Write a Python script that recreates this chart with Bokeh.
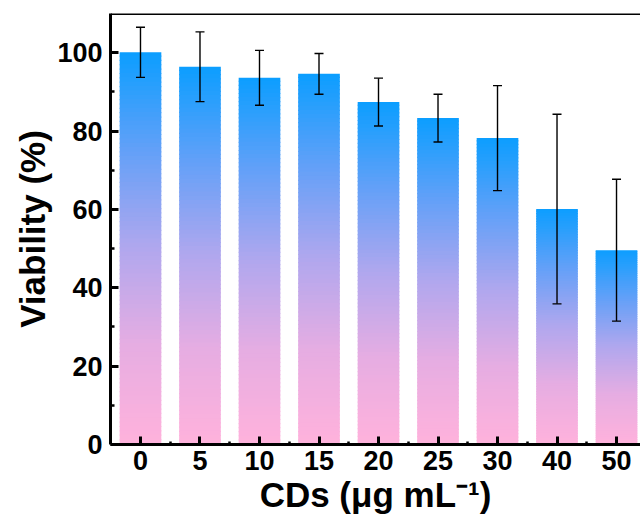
from bokeh.plotting import figure
from bokeh.models import Range1d, FixedTicker, ColumnDataSource, Whisker, TeeHead, Span
from bokeh.embed import file_html
from bokeh.resources import INLINE

# ---- data ----
concentrations = ["0", "5", "10", "15", "20", "25", "30", "40", "50"]
viability = [100.1, 96.4, 93.6, 94.6, 87.4, 83.3, 78.2, 60.1, 49.6]
viability_err = [6.4, 8.9, 7.0, 5.2, 6.1, 6.1, 13.4, 24.2, 18.1]
y_ticks = [0, 20, 40, 60, 80, 100]
y_minor_ticks = [10, 30, 50, 70, 90]
x_title = "CDs (μg mL⁻¹)"
y_title = "Viability (%)"

# ---- style ----
FONT = "Liberation Sans"
GRAD_STOPS = [(0.0, (10, 158, 255)), (0.25, (98, 160, 248)), (0.5, (176, 167, 238)),
              (0.75, (230, 173, 226)), (1.0, (255, 178, 220))]
SLICE_OVERLAP = 0.3  # data units, hides seams between gradient slices


def grad_color(t):
    for (t0, c0), (t1, c1) in zip(GRAD_STOPS[:-1], GRAD_STOPS[1:]):
        if t0 <= t <= t1:
            f = (t - t0) / (t1 - t0)
            r, g, b = (round(a + (bb - a) * f) for a, bb in zip(c0, c1))
            return "#%02x%02x%02x" % (r, g, b)
    return "#%02x%02x%02x" % GRAD_STOPS[-1][1]


positions = list(range(len(concentrations)))

p = figure(width=640, height=525, output_backend="svg", toolbar_location=None,
           x_range=Range1d(-0.504, 8.403), y_range=Range1d(0, 110),
           min_border_left=110, min_border_right=0, min_border_top=13, min_border_bottom=81)
p.outline_line_color = None
p.grid.visible = False
p.background_fill_color = "white"
p.border_fill_color = "white"

# gradient bars: each bar split into thin slices, blue at top -> pink at bottom
N = 90
xs, bots, tops, cols = [], [], [], []
for i, v in zip(positions, viability):
    for k in range(N):
        t0, t1 = k / N, (k + 1) / N
        xs.append(i)
        tops.append(v * (1 - t0) + (SLICE_OVERLAP if k > 0 else 0.0))
        bots.append(v * (1 - t1))
        cols.append(grad_color((t0 + t1) / 2))
p.vbar(x=xs, bottom=bots, top=tops, width=0.7, fill_color=cols, line_color=None)

# error bars
src = ColumnDataSource(dict(
    x=positions,
    upper=[v + e for v, e in zip(viability, viability_err)],
    lower=[v - e for v, e in zip(viability, viability_err)],
))
w = Whisker(source=src, base="x", upper="upper", lower="lower",
            line_color="black", line_width=1.4, level="annotation",
            upper_head=TeeHead(size=9, line_color="black", line_width=1.4),
            lower_head=TeeHead(size=9, line_color="black", line_width=1.4))
p.add_layout(w)

# top frame line
p.add_layout(Span(location=110, dimension="width", line_color="black", line_width=3))

# axes
for ax in (p.xaxis[0], p.yaxis[0]):
    ax.axis_line_width = 3
    ax.axis_line_color = "black"
    ax.major_tick_line_width = 3
    ax.minor_tick_line_width = 2.5
    ax.major_tick_line_color = "black"
    ax.minor_tick_line_color = "black"
    ax.major_tick_out = 0
    ax.minor_tick_out = 0
    ax.major_label_text_font = FONT
    ax.major_label_text_font_style = "bold"
    ax.major_label_text_font_size = "27px"
    ax.major_label_text_color = "black"
    ax.axis_label_text_font = FONT
    ax.axis_label_text_font_style = "bold"
    ax.axis_label_text_font_size = "35px"
    ax.axis_label_text_color = "black"

p.xaxis.ticker = FixedTicker(ticks=positions, minor_ticks=[i + 0.5 for i in positions[:-1]])
p.xaxis.major_label_overrides = {i: c for i, c in zip(positions, concentrations)}
p.xaxis.major_tick_in = 8
p.xaxis.minor_tick_in = 3
p.xaxis.major_label_standoff = 6
p.xaxis.axis_label = x_title
p.xaxis.axis_label_standoff = 2

p.yaxis.ticker = FixedTicker(ticks=y_ticks, minor_ticks=y_minor_ticks)
p.yaxis.major_tick_in = 8
p.yaxis.minor_tick_in = 4
p.yaxis.major_label_standoff = 8
p.yaxis.axis_label = y_title
p.yaxis.axis_label_standoff = 2

open("out.html", "w").write(file_html(p, INLINE))
